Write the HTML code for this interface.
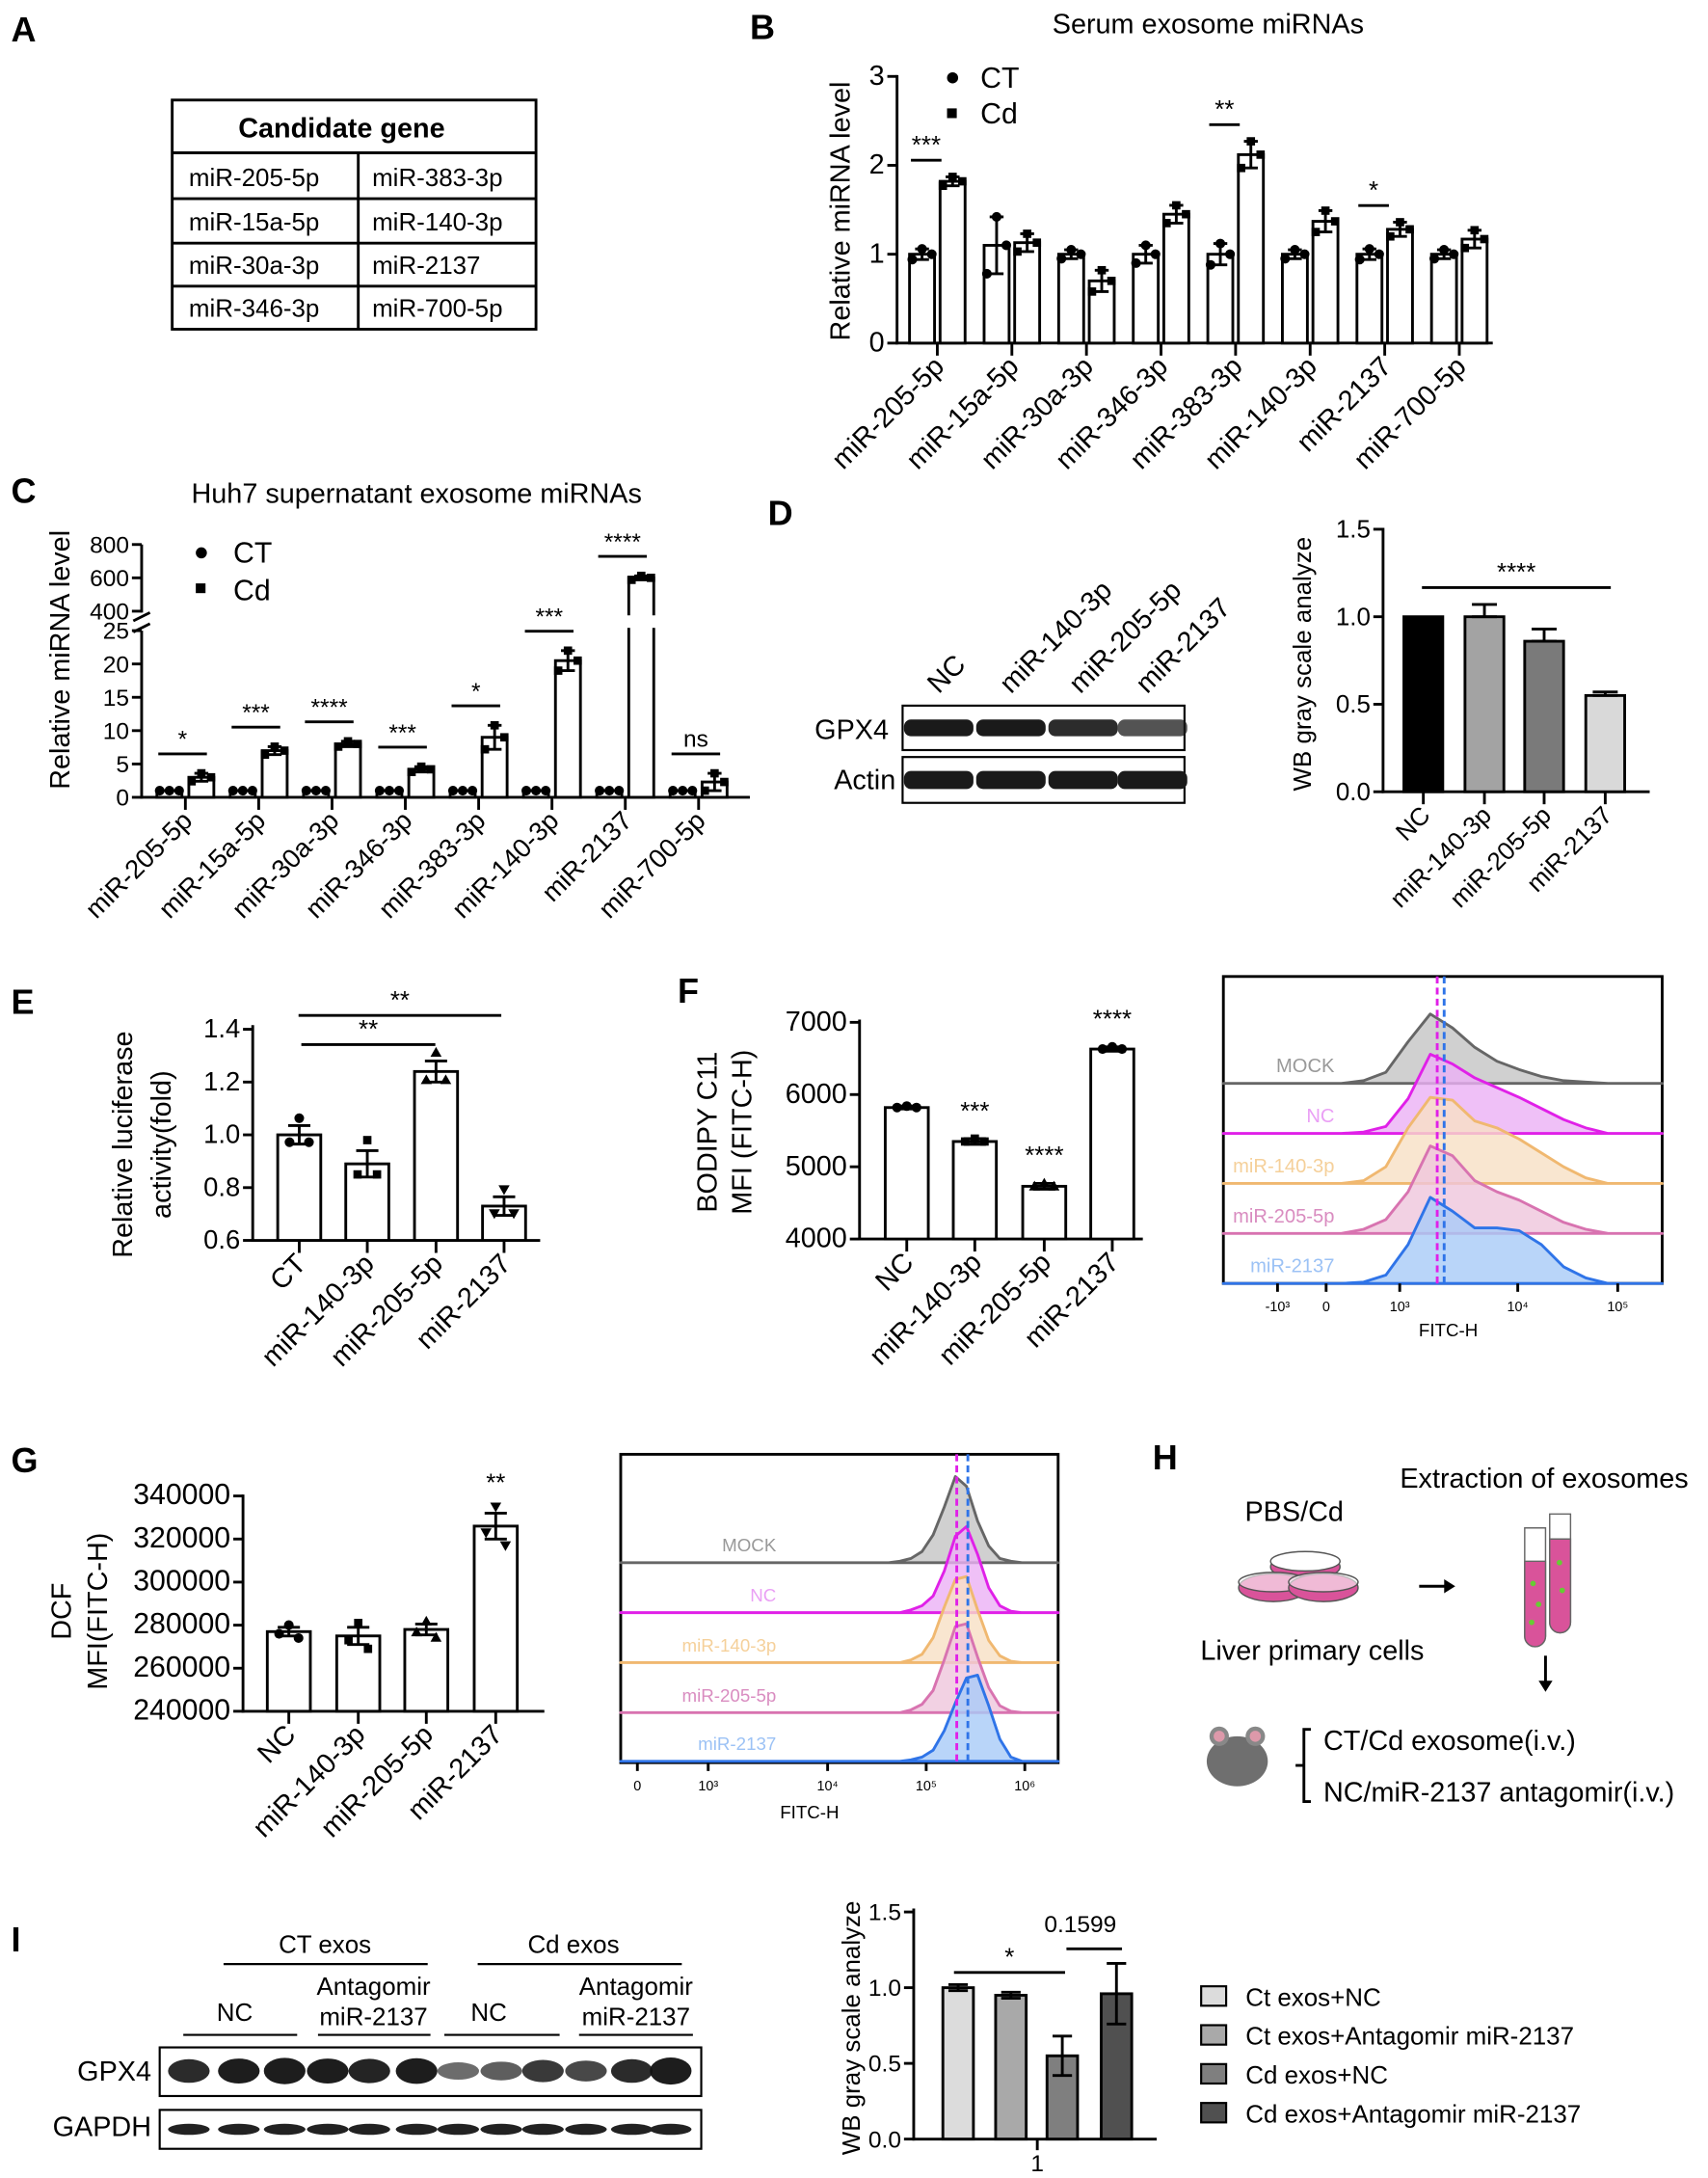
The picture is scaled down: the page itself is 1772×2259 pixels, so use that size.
<!DOCTYPE html>
<html><head><meta charset="utf-8"><style>
html,body{margin:0;padding:0;background:#fff}
svg{display:block;font-family:"Liberation Sans",Arial,sans-serif}
</style></head><body>
<svg id="fig" width="1772" height="2259" viewBox="0 0 1230 1568" xmlns="http://www.w3.org/2000/svg">
<g font-weight="bold" font-size="25">
<text x="8" y="30">A</text><text x="540" y="28">B</text><text x="8" y="362">C</text><text x="553" y="378">D</text><text x="8" y="730">E</text><text x="488" y="722">F</text><text x="8" y="1060">G</text><text x="830" y="1058">H</text><text x="8" y="1405">I</text>
</g>
<!-- Panel A table -->
<g font-size="18">
<rect x="124" y="72" width="262" height="165" fill="none" stroke="#000" stroke-width="2"/>
<line x1="124" y1="110" x2="386" y2="110" stroke="#000" stroke-width="2"/>
<line x1="124" y1="143" x2="386" y2="143" stroke="#000" stroke-width="2"/>
<line x1="124" y1="175" x2="386" y2="175" stroke="#000" stroke-width="2"/>
<line x1="124" y1="206" x2="386" y2="206" stroke="#000" stroke-width="2"/>
<line x1="258" y1="110" x2="258" y2="237" stroke="#000" stroke-width="2"/>
<text x="246" y="99" text-anchor="middle" font-weight="bold" font-size="20">Candidate gene</text>
<text x="136" y="134">miR-205-5p</text><text x="268" y="134">miR-383-3p</text>
<text x="136" y="166">miR-15a-5p</text><text x="268" y="166">miR-140-3p</text>
<text x="136" y="197">miR-30a-3p</text><text x="268" y="197">miR-2137</text>
<text x="136" y="228">miR-346-3p</text><text x="268" y="228">miR-700-5p</text>
</g>
<g id="B"></g>
<g id="C"></g>
<g id="D"></g>
<g id="E"></g>
<g id="F"></g>
<g id="G"></g>
<!-- Panel H schematic -->
<g font-size="20">
<text x="1112" y="1071" text-anchor="middle">Extraction of exosomes</text>
<text x="932" y="1095" text-anchor="middle">PBS/Cd</text>
<g stroke="#555" stroke-width="1">
<ellipse cx="940" cy="1128" rx="25" ry="9" fill="#d9539a"/><ellipse cx="940" cy="1124" rx="25" ry="7" fill="#fff"/>
<ellipse cx="917" cy="1143" rx="25" ry="10" fill="#d9539a"/><ellipse cx="917" cy="1139" rx="25" ry="7" fill="#fff" fill-opacity="0.6"/>
<ellipse cx="953" cy="1143" rx="25" ry="10" fill="#d9539a"/><ellipse cx="953" cy="1139" rx="25" ry="7" fill="#fff" fill-opacity="0.6"/>
</g>
<line x1="1022" y1="1142" x2="1046" y2="1142" stroke="#000" stroke-width="2"/><path d="M1048,1142l-8,-5v10z" fill="#000"/>
<g stroke="#666" stroke-width="1">
<path d="M1116,1090h15v78a7.5,7.5 0 0 1 -15,0z" fill="#fff"/>
<path d="M1116,1108h15v60a7.5,7.5 0 0 1 -15,0z" fill="#d9539a"/>
<path d="M1098,1100h15v78a7.5,7.5 0 0 1 -15,0z" fill="#fff"/>
<path d="M1098,1124h15v54a7.5,7.5 0 0 1 -15,0z" fill="#d9539a"/>
<circle cx="1104" cy="1140" r="2" fill="#6c3" stroke="none"/><circle cx="1108" cy="1155" r="2" fill="#6c3" stroke="none"/><circle cx="1103" cy="1168" r="2" fill="#6c3" stroke="none"/><circle cx="1123" cy="1125" r="2" fill="#6c3" stroke="none"/><circle cx="1125" cy="1145" r="2" fill="#6c3" stroke="none"/>
</g>
<text x="945" y="1195" text-anchor="middle">Liver primary cells</text>
<line x1="1113" y1="1192" x2="1113" y2="1213" stroke="#000" stroke-width="2"/><path d="M1113,1218l-5,-8h10z" fill="#000"/>
<g>
<ellipse cx="891" cy="1268" rx="22" ry="18" fill="#6f6f6f"/><circle cx="878" cy="1250" r="7" fill="#888"/><circle cx="904" cy="1250" r="7" fill="#888"/>
<circle cx="878" cy="1250" r="4" fill="#d9a"/><circle cx="904" cy="1250" r="4" fill="#d9a"/>
</g>
<path d="M944,1245h-5v52h5M939,1271h-6" stroke="#000" stroke-width="2" fill="none"/>
<text x="953" y="1260">CT/Cd exosome(i.v.)</text>
<text x="953" y="1297">NC/miR-2137 antagomir(i.v.)</text>
</g>
<!-- Panel I blot -->
<g font-size="18">
<text x="234" y="1406" text-anchor="middle">CT exos</text><line x1="161" y1="1414" x2="308" y2="1414" stroke="#000" stroke-width="1.5"/>
<text x="413" y="1406" text-anchor="middle">Cd exos</text><line x1="344" y1="1414" x2="491" y2="1414" stroke="#000" stroke-width="1.5"/>
<text x="169" y="1455" text-anchor="middle">NC</text><line x1="132" y1="1465" x2="214" y2="1465" stroke="#000" stroke-width="1.5"/>
<text x="269" y="1436" text-anchor="middle">Antagomir</text><text x="269" y="1458" text-anchor="middle">miR-2137</text><line x1="229" y1="1465" x2="310" y2="1465" stroke="#000" stroke-width="1.5"/>
<text x="352" y="1455" text-anchor="middle">NC</text><line x1="320" y1="1465" x2="403" y2="1465" stroke="#000" stroke-width="1.5"/>
<text x="458" y="1436" text-anchor="middle">Antagomir</text><text x="458" y="1458" text-anchor="middle">miR-2137</text><line x1="417" y1="1465" x2="499" y2="1465" stroke="#000" stroke-width="1.5"/>
<text x="109" y="1498" text-anchor="end" font-size="20">GPX4</text>
<text x="109" y="1538" text-anchor="end" font-size="20">GAPDH</text>
<rect x="115" y="1474" width="390" height="35" fill="#fff" stroke="#000" stroke-width="1.5"/>
<rect x="115" y="1519" width="390" height="28" fill="#fff" stroke="#000" stroke-width="1.5"/>
<g id="Iblot"></g>
</g>
<g id="I"></g>
</svg>
<script>
// ---------- data ----------
const bCats = ["miR-205-5p","miR-15a-5p","miR-30a-3p","miR-346-3p","miR-383-3p","miR-140-3p","miR-2137","miR-700-5p"];
const bCT = [1.0,1.1,1.0,1.0,1.0,1.0,1.0,1.0];
const bCTerr = [0.06,0.32,0.05,0.1,0.12,0.05,0.06,0.05];
const bCd = [1.82,1.13,0.7,1.45,2.12,1.37,1.28,1.17];
const bCdErr = [0.05,0.1,0.12,0.1,0.15,0.12,0.08,0.1];
const bSig = ["***","","","","**","","*",""];
const bTicks = [0,1,2,3];

const cCats = bCats;
const cCT = [1,1,1,1,1,1,1,1];
const cCTerr = [0.5,0.2,0.3,0.2,0.6,0.2,0.2,0.2];
const cCd = [3.0,7.0,8.0,4.2,9.0,20.5,600,2.3];
const cCdErr = [0.6,0.6,0.4,0.4,1.8,1.5,12,1.3];
const cSig = ["*","***","****","***","*","***","****","ns"];
const cTicksLow = [0,5,10,15,20,25];
const cTicksHigh = [400,600,800];

const dCats = ["NC","miR-140-3p","miR-205-5p","miR-2137"];
const dVals = [1.0,1.0,0.86,0.55];
const dErr = [0,0.07,0.07,0.02];
const dTicks = [0.0,0.5,1.0,1.5];

const eCats = ["CT","miR-140-3p","miR-205-5p","miR-2137"];
const eVals = [1.0,0.89,1.24,0.73];
const eErr = [0.035,0.05,0.04,0.035];
const eTicks = [0.6,0.8,1.0,1.2,1.4];

const fCats = ["NC","miR-140-3p","miR-205-5p","miR-2137"];
const fVals = [5820,5350,4730,6630];
const fErr = [20,40,40,30];
const fSig = ["","***","****","****"];
const fTicks = [4000,5000,6000,7000];

const gCats = ["NC","miR-140-3p","miR-205-5p","miR-2137"];
const gVals = [277000,275000,278000,326000];
const gErr = [2000,4000,2500,6000];
const gSig = ["","","","**"];
const gTicks = [240000,260000,280000,300000,320000,340000];

const iVals = [1.0,0.95,0.55,0.96];
const iErr = [0.02,0.02,0.13,0.2];
const iTicks = [0.0,0.5,1.0,1.5];
const iLegend = ["Ct exos+NC","Ct exos+Antagomir miR-2137","Cd exos+NC","Cd exos+Antagomir miR-2137"];
const iColors = ["#dcdcdc","#a9a9a9","#7f7f7f","#505050"];
const iGpx4 = [0.9,1.0,1.1,1.0,0.95,1.05,0.45,0.55,0.8,0.7,0.9,1.15];

const histNames = ["MOCK","NC","miR-140-3p","miR-205-5p","miR-2137"];
const histStroke = ["#666","#e020e8","#f0b870","#d873b0","#2f74e8"];
const histFill = ["#c4c4c4","#ebb0f5","#f8e0c4","#efc6dc","#a8caf7"];
const histLabel = ["#999","#eaa0f5","#f5d09a","#d98cc0","#9cc2f5"];
const fHist = [
 [0,0,2,8,30,50,40,26,16,10,5,2,1,0],
 [0,0,1,5,25,57,50,40,33,26,18,10,4,0],
 [0,0,2,12,40,62,60,45,40,32,22,12,4,0],
 [0,0,3,10,30,63,56,38,30,24,16,8,3,0],
 [0,0,1,6,28,62,52,40,40,38,28,12,4,0]
];
const gHist = [
 [0,1,3,8,20,40,62,55,30,12,3,1,0],
 [0,0,2,5,12,30,55,62,42,18,5,1,0],
 [0,0,2,6,18,40,60,62,38,16,5,1,0],
 [0,0,2,6,16,38,62,64,40,18,5,1,0],
 [0,0,1,3,8,22,42,60,62,40,16,3,0]
];

// ---------- helpers ----------
const NS="http://www.w3.org/2000/svg";
function el(tag,attrs,parent){const e=document.createElementNS(NS,tag);for(const k in attrs)e.setAttribute(k,attrs[k]);parent.appendChild(e);return e;}
function txt(s,attrs,parent){const e=el("text",attrs,parent);e.textContent=s;return e;}

function axisY(g,x,y0,y1,ticks,yf,fmt,fs){
  const a=el("line",{x1:x,y1:y0,x2:x,y2:y1,stroke:"#000","stroke-width":2},g);
  
  
  ticks.forEach(t=>{
    const y=yf(t);
    el("line",{x1:x-7,y1:y,x2:x,y2:y,stroke:"#000","stroke-width":2},g);
    const l=txt(fmt(t),{x:x-9,y:y+6,"text-anchor":"end","font-size":fs||18},g);
    
    
  });
}
function xLabels(g,cats,centers,axisYpos,fs){
  cats.forEach((c,i)=>{
    el("line",{x1:centers[i],y1:axisYpos,x2:centers[i],y2:axisYpos+9,stroke:"#000","stroke-width":2},g);
    const x=centers[i]+6, y=axisYpos+18;
    const l=txt(c,{x:x,y:y,"text-anchor":"end","font-size":fs||19,transform:`rotate(-45 ${x} ${y})`},g);
    
    
  });
}
function bar(g,cx,w,yTop,yBase,fill){
  const r=el("rect",{x:cx-w/2,y:Math.min(yTop,yBase),width:w,height:Math.abs(yBase-yTop),fill:fill,stroke:"#000","stroke-width":2},g);
  
  
  return r;
}
function errBar(g,cx,yLo,yHi,w){
  const p=el("path",{d:`M${cx},${yLo}V${yHi}M${cx-w},${yHi}H${cx+w}M${cx-w},${yLo}H${cx+w}`,stroke:"#000","stroke-width":2,fill:"none"},g);
  
  
}
function pts(g,cx,ys,shape){
  const dx=[-7,0,7];
  ys.forEach((y,i)=>{
    let p;
    if(shape==="sq") p=el("rect",{x:cx+dx[i]-3,y:y-3,width:6,height:6,fill:"#000"},g);
    else if(shape==="tri") p=el("path",{d:`M${cx+dx[i]},${y-4}l4,7h-8z`,fill:"#000"},g);
    else if(shape==="dtri") p=el("path",{d:`M${cx+dx[i]},${y+4}l4,-7h-8z`,fill:"#000"},g);
    else p=el("circle",{cx:cx+dx[i],cy:y,r:3.5,fill:"#000"},g);
    
    
  });
}
function sig(g,x1,x2,y,s,fs){
  const l=el("line",{x1:x1,y1:y,x2:x2,y2:y,stroke:"#000","stroke-width":2},g);
  
  
  const t=txt(s,{x:(x1+x2)/2,y:y-5,"text-anchor":"middle","font-size":fs||18},g);
  
  
}
function yTitle(g,s,x,y,fs){
  const t=txt(s,{x:x,y:y,"text-anchor":"middle","font-size":fs||20,transform:`rotate(-90 ${x} ${y})`},g);
  
  
}

// ---------- Panel B ----------
(function(){
  const g=document.getElementById("B");
  const yB=v=>247-v*64;
  const t=txt("Serum exosome miRNAs",{x:870,y:24,"text-anchor":"middle","font-size":20},g);
  
  
  axisY(g,646,54,248,bTicks,yB,v=>String(v),20);
  el("line",{x1:645,y1:247,x2:1075,y2:247,stroke:"#000","stroke-width":2},g);
  yTitle(g,"Relative miRNA level",612,152);
  const ctC=bCats.map((c,i)=>664+53.7*i), cdC=bCats.map((c,i)=>686+53.7*i);
  bCats.forEach((c,i)=>{
    bar(g,ctC[i],18,yB(bCT[i]),247,"#fff");
    bar(g,cdC[i],18,yB(bCd[i]),247,"#fff");
    errBar(g,ctC[i],yB(bCT[i]-bCTerr[i]),yB(bCT[i]+bCTerr[i]),5);
    errBar(g,cdC[i],yB(bCd[i]-bCdErr[i]),yB(bCd[i]+bCdErr[i]),5);
    pts(g,ctC[i],[yB(bCT[i]-bCTerr[i]),yB(bCT[i]+bCTerr[i]),yB(bCT[i])],"c");
    pts(g,cdC[i],[yB(bCd[i]-bCdErr[i]),yB(bCd[i]+bCdErr[i]),yB(bCd[i])],"sq");
    if(bSig[i]) sig(g,ctC[i]-8,cdC[i]-8,yB(Math.max(bCd[i]+bCdErr[i],bCT[i]+bCTerr[i]))-12,bSig[i]);
  });
  xLabels(g,bCats,ctC.map((c,i)=>(c+cdC[i])/2),247,20);
  el("circle",{cx:686,cy:56,r:4,fill:"#000"},g); txt("CT",{x:706,y:63,"font-size":21},g);
  el("rect",{x:682,y:78,width:7,height:7,fill:"#000"},g); txt("Cd",{x:706,y:89,"font-size":21},g);
})();

// ---------- Panel C ----------
(function(){
  const g=document.getElementById("C");
  const yC=v=> v<=25 ? 574-v*4.8 : 440-(v-400)*0.12;
  const t=txt("Huh7 supernatant exosome miRNAs",{x:300,y:362,"text-anchor":"middle","font-size":20},g);
  
  
  axisY(g,102,454,575,cTicksLow,yC,v=>String(v),17);
  axisY(g,102,392,441,cTicksHigh,yC,v=>String(v),17);
  el("line",{x1:96,y1:447,x2:108,y2:441,stroke:"#000","stroke-width":2},g);
  el("line",{x1:96,y1:455,x2:108,y2:449,stroke:"#000","stroke-width":2},g);
  el("line",{x1:101,y1:574,x2:540,y2:574,stroke:"#000","stroke-width":2},g);
  yTitle(g,"Relative miRNA level",50,475);
  const ctC=cCats.map((c,i)=>122+52.8*i), cdC=cCats.map((c,i)=>145+52.8*i);
  cCats.forEach((c,i)=>{
    bar(g,ctC[i],18,yC(cCT[i]),574,"#fff");
    bar(g,cdC[i],18,yC(cCd[i]),574,"#fff");
    errBar(g,cdC[i],yC(cCd[i]-cCdErr[i]),yC(cCd[i]+cCdErr[i]),5);
    pts(g,ctC[i],[yC(cCT[i]),yC(cCT[i]),yC(cCT[i])],"c");
    pts(g,cdC[i],[yC(cCd[i]-cCdErr[i]),yC(cCd[i]+cCdErr[i]),yC(cCd[i])],"sq");
    sig(g,ctC[i]-8,cdC[i]+4,yC(cCd[i]+cCdErr[i])-14,cSig[i],17);
  });
  const bi=cCd.indexOf(Math.max(...cCd));
  el("rect",{x:cdC[bi]-12,y:443,width:24,height:9,fill:"#fff"},g);
  xLabels(g,cCats,ctC.map((c,i)=>(c+cdC[i])/2),574,19);
  el("circle",{cx:145,cy:398,r:4,fill:"#000"},g); txt("CT",{x:168,y:405,"font-size":21},g);
  el("rect",{x:141,y:420,width:7,height:7,fill:"#000"},g); txt("Cd",{x:168,y:432,"font-size":21},g);
})();

// ---------- Panel D ----------
(function(){
  const g=document.getElementById("D");
  dCats.forEach((c,i)=>{
    const x=[676,728,778,826][i], y=500;
    txt(c,{x:x,y:y,"font-size":20,transform:`rotate(-45 ${x} ${y})`},g);
  });
  txt("GPX4",{x:640,y:532,"text-anchor":"end","font-size":20},g);
  txt("Actin",{x:645,y:568,"text-anchor":"end","font-size":20},g);
  el("rect",{x:650,y:508,width:203,height:32,fill:"#fff",stroke:"#000","stroke-width":1.5},g);
  el("rect",{x:650,y:545,width:203,height:33,fill:"#fff",stroke:"#000","stroke-width":1.5},g);
  const bx=[676,728,780,830];
  dVals.forEach((v,i)=>{
    const b=el("rect",{x:bx[i]-25,y:518,width:50,height:12,rx:5,fill:"#1a1a1a",opacity:0.45+0.55*v},g);
    
    
    const a=el("rect",{x:bx[i]-25,y:555,width:50,height:13,rx:5,fill:"#1a1a1a"},g);
    
    
  });
  const yD=v=>570-v*126;
  axisY(g,996,380,571,dTicks,yD,v=>v.toFixed(1),18);
  el("line",{x1:995,y1:570,x2:1188,y2:570,stroke:"#000","stroke-width":2},g);
  yTitle(g,"WB gray scale analyze",944,478,18);
  const cs=[1025,1069,1112,1156], fills=["#000","#a3a3a3","#7a7a7a","#d9d9d9"];
  dVals.forEach((v,i)=>{
    bar(g,cs[i],28,yD(v),570,fills[i]);
    if(dErr[i]) errBar(g,cs[i],yD(v),yD(v+dErr[i]),9);
  });
  sig(g,1024,1160,423,"****");
  xLabels(g,dCats,cs,570,18);
})();

// ---------- Panel E ----------
(function(){
  const g=document.getElementById("E");
  const yE=v=>893-(v-0.6)*190;
  axisY(g,182,738,894,eTicks,yE,v=>v.toFixed(1),19);
  el("line",{x1:181,y1:893,x2:389,y2:893,stroke:"#000","stroke-width":2},g);
  yTitle(g,"Relative luciferase",95,824,20); yTitle(g,"activity(fold)",123,824,20);
  const cs=[215.5,264.5,314,363];
  const shapes=["c","sq","tri","dtri"];
  eVals.forEach((v,i)=>{
    bar(g,cs[i],31,yE(v),893,"#fff");
    errBar(g,cs[i],yE(v-eErr[i]),yE(v+eErr[i]),8);
    pts(g,cs[i],[yE(v-eErr[i]*0.8),yE(v+eErr[i]*1.8),yE(v-eErr[i]*0.8)],shapes[i]);
  });
  sig(g,217,313.5,752,"**"); sig(g,215,361,731,"**");
  xLabels(g,eCats,cs,893,20);
})();

function hist(g,box,data,x0,dx,base,labelX,scale,dashX,ticks,lfs){
  el("rect",{x:box[0],y:box[1],width:box[2]-box[0],height:box[3]-box[1],fill:"#fff",stroke:"#000","stroke-width":2},g);
  data.forEach((arr,k)=>{
    const b=base[k];
    let d=`M${box[0]},${b}L${x0},${b}`;
    arr.forEach((h,j)=>{d+=`L${x0+j*dx},${b-h*scale}`;});
    d+=`L${box[2]},${b}`;
    const p=el("path",{d:d+"Z",fill:histFill[k],"fill-opacity":0.8,stroke:histStroke[k],"stroke-width":2,"stroke-linejoin":"round"},g);
    
    
    const t=txt(histNames[k],{x:labelX,y:b-8,"text-anchor":"end","font-size":lfs,fill:histLabel[k]},g);
    
    
  });
  el("line",{x1:dashX[0],y1:box[1],x2:dashX[0],y2:box[3],stroke:"#e020e8","stroke-width":2,"stroke-dasharray":"5,3"},g);
  el("line",{x1:dashX[1],y1:box[1],x2:dashX[1],y2:box[3],stroke:"#2f74e8","stroke-width":2,"stroke-dasharray":"5,3"},g);
  ticks.forEach(t=>{
    el("line",{x1:t[0],y1:box[3],x2:t[0],y2:box[3]+6,stroke:"#000","stroke-width":2},g);
    const l=txt(t[1],{x:t[0],y:box[3]+20,"text-anchor":"middle","font-size":10},g);
    
    
  });
}

// ---------- Panel F ----------
(function(){
  const g=document.getElementById("F");
  const yF=v=>892-(v-4000)*0.052;
  axisY(g,619,734,893,fTicks,yF,v=>String(v),20);
  el("line",{x1:618,y1:892,x2:823,y2:892,stroke:"#000","stroke-width":2},g);
  yTitle(g,"BODIPY C11",516,815,20); yTitle(g,"MFI (FITC-H)",541,815,20);
  const cs=[653,702,752,801];
  fVals.forEach((v,i)=>{
    bar(g,cs[i],31,yF(v),892,"#fff");
    errBar(g,cs[i],yF(v-fErr[i]),yF(v+fErr[i]),8);
    pts(g,cs[i],[yF(v),yF(v+fErr[i]),yF(v)],i===2?"tri":(i===1?"sq":"c"));
    if(fSig[i]){const t=txt(fSig[i],{x:cs[i],y:yF(v+fErr[i])-14,"text-anchor":"middle","font-size":18},g);}
  });
  xLabels(g,fCats,cs,892,20);
  hist(g,[881,703,1197,924],fHist,950,16,[780,816,852,888,924],961,1.0,[1035,1040],
    [[920,"-10³"],[955,"0"],[1008,"10³"],[1093,"10⁴"],[1165,"10⁵"]],14);
  txt("FITC-H",{x:1043,y:962,"text-anchor":"middle","font-size":13},g);
})();

// ---------- Panel G ----------
(function(){
  const g=document.getElementById("G");
  const yG=v=>1232-(v-240000)*0.00155;
  axisY(g,175,1076,1233,gTicks,yG,v=>String(v),21);
  el("line",{x1:174,y1:1232,x2:392,y2:1232,stroke:"#000","stroke-width":2},g);
  yTitle(g,"DCF",51,1160,20); yTitle(g,"MFI(FITC-H)",77,1160,20);
  const cs=[208,258,307,357];
  const shapes=["c","sq","tri","dtri"];
  gVals.forEach((v,i)=>{
    bar(g,cs[i],31,yG(v),1232,"#fff");
    errBar(g,cs[i],yG(v-gErr[i]),yG(v+gErr[i]),8);
    pts(g,cs[i],[yG(v-gErr[i]*0.5),yG(v+gErr[i]*1.5),yG(v-gErr[i]*1.5)],shapes[i]);
    if(gSig[i]){const t=txt(gSig[i],{x:cs[i],y:yG(v+gErr[i])-16,"text-anchor":"middle","font-size":18},g);}
  });
  xLabels(g,gCats,cs,1232,20);
  hist(g,[447,1047,762,1269],gHist,640,8,[1125,1161,1197,1233,1268],559,1.0,[689,697],
    [[459,"0"],[510,"10³"],[596,"10⁴"],[667,"10⁵"],[738,"10⁶"]],13);
  txt("FITC-H",{x:583,y:1309,"text-anchor":"middle","font-size":13},g);
})();

// ---------- Panel I ----------
(function(){
  const b=document.getElementById("Iblot");
  const lane=[136,172,205,236,266,300,330,361,391,422,455,483];
  lane.forEach((x,i)=>{
    const e=el("ellipse",{cx:x,cy:1491,rx:15,ry:4+5*iGpx4[i],fill:"#111",opacity:0.35+0.6*Math.min(1,iGpx4[i])},b);
    
    
    const f=el("ellipse",{cx:x,cy:1533,rx:15,ry:4,fill:"#222"},b);
    
    
  });
  const g=document.getElementById("I");
  const yI=v=>1540-v*109;
  axisY(g,658,1374,1541,iTicks,yI,v=>v.toFixed(1),17);
  el("line",{x1:657,y1:1540,x2:833,y2:1540,stroke:"#000","stroke-width":2},g);
  yTitle(g,"WB gray scale analyze",619,1460,18);
  const cs=[690,728,765,804];
  iVals.forEach((v,i)=>{
    bar(g,cs[i],22,yI(v),1540,iColors[i]);
    errBar(g,cs[i],yI(v-iErr[i]),yI(v+iErr[i]),7);
  });
  el("line",{x1:747,y1:1540,x2:747,y2:1548,stroke:"#000","stroke-width":2},g);
  txt("1",{x:747,y:1563,"text-anchor":"middle","font-size":17},g);
  sig(g,687,767,1420,"*"); sig(g,768,808,1403,"");
  txt("0.1599",{x:778,y:1391,"text-anchor":"middle","font-size":17},g);
  iLegend.forEach((s,i)=>{
    const r=el("rect",{x:865,y:1430+28*i,width:18,height:14,fill:iColors[i],stroke:"#000","stroke-width":1.5},g);
    
    
    const t=txt(s,{x:897,y:1444+28*i,"font-size":18},g);
    
    
  });
})();
</script>
</body></html>
